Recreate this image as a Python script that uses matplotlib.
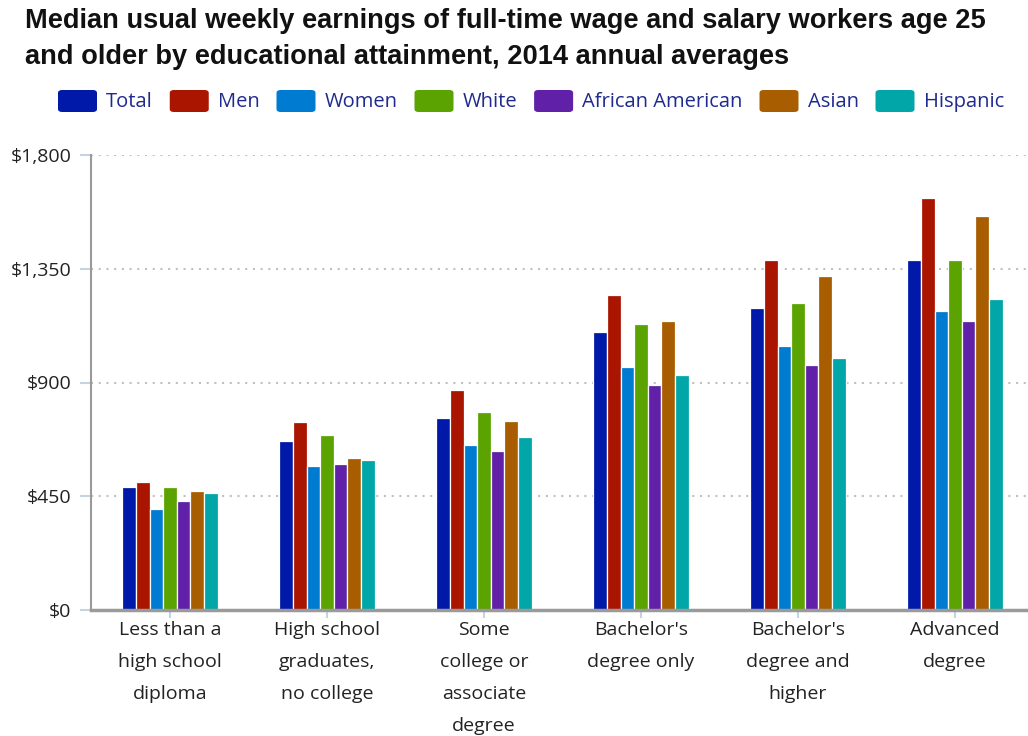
import matplotlib
matplotlib.use("Agg")
import matplotlib.pyplot as plt
from matplotlib.patches import FancyBboxPatch
from matplotlib.ticker import FuncFormatter
import numpy as np

# Education levels (x categories)
categories = [
    "Less than a\nhigh school\ndiploma",
    "High school\ngraduates,\nno college",
    "Some\ncollege or\nassociate\ndegree",
    "Bachelor's\ndegree only",
    "Bachelor's\ndegree and\nhigher",
    "Advanced\ndegree",
]

# Median weekly earnings (USD) per group
total            = [488, 668, 761, 1101, 1193, 1386]
men              = [508, 745, 869, 1245, 1383, 1629]
women            = [400, 570, 653, 960, 1044, 1183]
white            = [485, 692, 783, 1130, 1213, 1383]
african_american = [431, 578, 630, 891, 968, 1145]
asian            = [470, 600, 746, 1145, 1321, 1560]
hispanic         = [462, 592, 684, 928, 998, 1230]

series_names = ["Total", "Men", "Women", "White", "African American", "Asian", "Hispanic"]
series_values = [total, men, women, white, african_american, asian, hispanic]
series_colors = ["#0019a8", "#aa1500", "#007bd2", "#5ba300", "#6020a8", "#a85e00", "#00a6a8"]

y_ticks = [0, 450, 900, 1350, 1800]

W, H = 1028, 736
fig = plt.figure(figsize=(W / 100, H / 100), dpi=100)

def fx(px):
    return px / W

def fy(py):
    return 1 - py / H

ax_left, ax_right, ax_top, ax_bottom = 91, 1028, 155, 610
ax = fig.add_axes([fx(ax_left), fy(ax_bottom), fx(ax_right - ax_left), (ax_bottom - ax_top) / H])

x = np.arange(len(categories))
n = len(series_names)
step = 0.0866
for i, (vals, col) in enumerate(zip(series_values, series_colors)):
    ax.bar(x + (i - (n - 1) / 2) * step, vals, width=step, color=col,
           edgecolor="white", linewidth=0.9, zorder=3)

center0 = 170
spacing = 157
ax.set_xlim(-(center0 - ax_left) / spacing, (ax_right - center0) / spacing)
ax.set_ylim(0, 1800)

ax.set_yticks(y_ticks)
ax.yaxis.set_major_formatter(FuncFormatter(lambda v, p: f"${int(v):,}"))
ax.set_xticks(x)
ax.set_xticklabels(categories, linespacing=2.0)

label_font = "Open Sans"
for lab in ax.get_yticklabels():
    lab.set_fontfamily(label_font)
    lab.set_fontsize(14)
    lab.set_color("#222222")
for lab in ax.get_xticklabels():
    lab.set_fontfamily(label_font)
    lab.set_fontsize(14)
    lab.set_color("#222222")
    lab.set_verticalalignment("top")

ax.tick_params(axis="y", length=8, width=1.5, color="#c5d3e3", pad=6)
ax.tick_params(axis="x", length=6, width=1.5, color="#c5d3e3", pad=2)

ax.yaxis.grid(True, color="#c0c0c0", linestyle=(0, (1, 2.7)), linewidth=1.5, zorder=0)
ax.set_axisbelow(True)

for s in ("top", "right"):
    ax.spines[s].set_visible(False)
ax.spines["left"].set_color("#9a9a9a")
ax.spines["left"].set_linewidth(1.5)
ax.spines["bottom"].set_color("#9a9a9a")
ax.spines["bottom"].set_linewidth(2.5)
ax.spines["bottom"].set_zorder(4)

# Title
title_kw = dict(fontfamily="Liberation Sans", fontweight="bold", fontsize=19.6,
                color="#111111", va="baseline", ha="left")
fig.text(fx(25), fy(27.5), "Median usual weekly earnings of full-time wage and salary workers age 25", **title_kw)
fig.text(fx(25), fy(63.5), "and older by educational attainment, 2014 annual averages", **title_kw)

# Legend row
renderer = fig.canvas.get_renderer()
cur = 58
leg_y = 101
sq_w, sq_h = 39, 22
for name, col in zip(series_names, series_colors):
    box = FancyBboxPatch((fx(cur), fy(leg_y + sq_h / 2)), fx(sq_w), sq_h / H,
                         boxstyle="round,pad=0,rounding_size=0.004",
                         transform=fig.transFigure, facecolor=col, edgecolor="none")
    fig.patches.append(box)
    t = fig.text(fx(cur + sq_w + 9), fy(leg_y + 1), name, fontfamily=label_font, fontsize=14.5,
                 color="#1f2a8f", va="center", ha="left")
    tw = t.get_window_extent(renderer).width
    cur = cur + sq_w + 9 + tw + 17

fig.savefig("out.png", dpi=100)
